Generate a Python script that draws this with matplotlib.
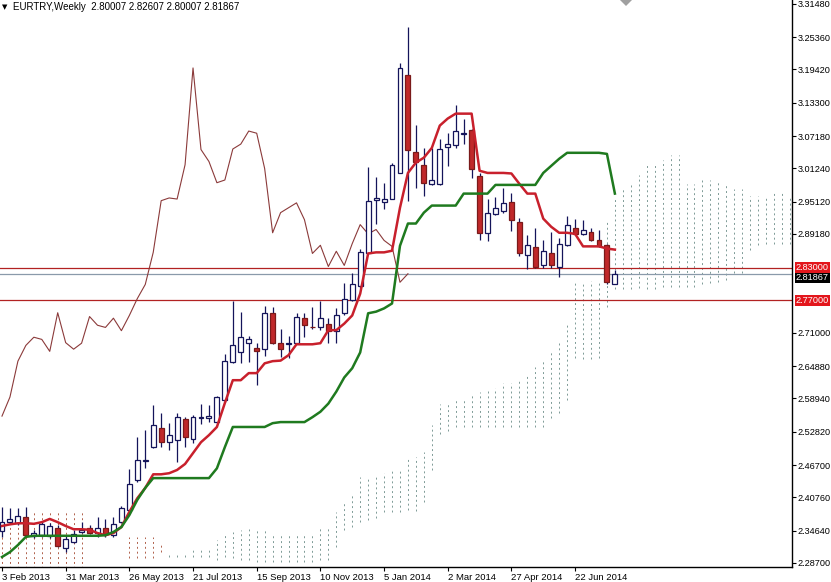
import matplotlib.pyplot as plt
from matplotlib.patches import Polygon

plt.rcParams['font.family'] = ['Liberation Sans', 'DejaVu Sans']

# 周线数据, 第一根是 2013-02-03 那一周
opens = [2.345, 2.362, 2.360, 2.371, 2.336, 2.338, 2.337, 2.351, 2.314, 2.325,
         2.344, 2.351, 2.342, 2.351, 2.338, 2.362, 2.384, 2.439, 2.474, 2.500,
         2.535, 2.509, 2.513, 2.551, 2.514, 2.554, 2.553, 2.546, 2.586, 2.656,
         2.674, 2.692, 2.683, 2.681, 2.747, 2.692, 2.690, 2.692, 2.738, 2.721,
         2.720, 2.727, 2.714, 2.746, 2.771, 2.797, 2.856, 2.955, 2.951, 2.957,
         3.004, 3.184, 3.043, 3.019, 2.984, 2.984, 3.052, 3.056, 3.075, 3.083,
         2.998, 2.894, 2.929, 2.934, 2.951, 2.914, 2.854, 2.867, 2.834, 2.856,
         2.832, 2.872, 2.903, 2.892, 2.896, 2.880, 2.872, 2.80007]
highs = [2.390, 2.388, 2.388, 2.390, 2.348, 2.362, 2.360, 2.357, 2.338, 2.348,
         2.362, 2.357, 2.371, 2.368, 2.371, 2.392, 2.459, 2.518, 2.531, 2.577,
         2.562, 2.544, 2.562, 2.555, 2.559, 2.580, 2.577, 2.594, 2.672, 2.768,
         2.748, 2.705, 2.692, 2.760, 2.757, 2.718, 2.705, 2.746, 2.746, 2.757,
         2.768, 2.738, 2.755, 2.801, 2.820, 2.865, 3.014, 2.997, 2.986, 3.023,
         3.206, 3.272, 3.093, 3.050, 3.050, 3.067, 3.078, 3.129, 3.104, 3.085,
         3.003, 2.957, 2.959, 2.977, 2.968, 2.922, 2.889, 2.903, 2.880, 2.896,
         2.885, 2.925, 2.920, 2.918, 2.903, 2.900, 2.874, 2.82607]
lows = [2.335, 2.358, 2.357, 2.335, 2.333, 2.335, 2.333, 2.316, 2.307, 2.324,
        2.342, 2.340, 2.335, 2.335, 2.335, 2.360, 2.381, 2.436, 2.461, 2.498,
        2.500, 2.494, 2.472, 2.500, 2.507, 2.542, 2.546, 2.544, 2.582, 2.654,
        2.654, 2.656, 2.614, 2.668, 2.690, 2.665, 2.663, 2.690, 2.702, 2.718,
        2.716, 2.692, 2.692, 2.742, 2.768, 2.793, 2.856, 2.911, 2.937, 2.957,
        3.003, 2.953, 2.977, 2.962, 2.981, 2.981, 3.017, 3.050, 3.058, 2.995,
        2.880, 2.878, 2.926, 2.931, 2.898, 2.852, 2.828, 2.830, 2.830, 2.830,
        2.812, 2.870, 2.889, 2.889, 2.878, 2.867, 2.800, 2.80007]
closes = [2.362, 2.368, 2.373, 2.338, 2.342, 2.359, 2.355, 2.318, 2.331, 2.340,
          2.348, 2.342, 2.351, 2.340, 2.359, 2.388, 2.432, 2.476, 2.477, 2.540,
          2.509, 2.522, 2.555, 2.518, 2.555, 2.555, 2.557, 2.592, 2.658, 2.687,
          2.702, 2.698, 2.676, 2.747, 2.692, 2.680, 2.691, 2.740, 2.724, 2.720,
          2.737, 2.714, 2.742, 2.773, 2.799, 2.858, 2.953, 2.958, 2.956, 3.019,
          3.197, 3.047, 3.025, 2.986, 2.991, 3.048, 3.057, 3.081, 3.077, 3.012,
          2.894, 2.931, 2.940, 2.949, 2.918, 2.856, 2.871, 2.832, 2.860, 2.834,
          2.874, 2.909, 2.892, 2.900, 2.880, 2.869, 2.803, 2.81867]

# 一目均衡表: 转换线(红), 基准线(绿)
tenkan = [2.355, 2.358, 2.360, 2.360, 2.359, 2.362, 2.368, 2.362, 2.355, 2.349,
          2.349, 2.348, 2.342, 2.338, 2.342, 2.353, 2.381, 2.406, 2.425, 2.450,
          2.450, 2.452, 2.458, 2.469, 2.489, 2.509, 2.522, 2.537, 2.581, 2.623,
          2.623, 2.636, 2.636, 2.654, 2.658, 2.659, 2.669, 2.689, 2.689, 2.689,
          2.691, 2.715, 2.715, 2.727, 2.742, 2.782, 2.856, 2.858, 2.858, 2.861,
          2.940, 3.004, 3.023, 3.032, 3.050, 3.091, 3.104, 3.113, 3.113, 3.113,
          3.008, 3.004, 3.004, 3.004, 3.003, 2.984, 2.966, 2.966, 2.920, 2.905,
          2.894, 2.894, 2.892, 2.869, 2.869, 2.869, 2.865, 2.863]
kijun = [2.298, 2.307, 2.320, 2.335, 2.337, 2.337, 2.337, 2.337, 2.337, 2.337,
         2.337, 2.337, 2.337, 2.338, 2.344, 2.353, 2.375, 2.403, 2.425, 2.443,
         2.443, 2.443, 2.443, 2.443, 2.443, 2.443, 2.443, 2.461, 2.500, 2.537,
         2.537, 2.537, 2.537, 2.537, 2.544, 2.546, 2.546, 2.546, 2.546, 2.555,
         2.565, 2.580, 2.602, 2.628, 2.645, 2.674, 2.746, 2.749, 2.755, 2.764,
         2.870, 2.911, 2.911, 2.931, 2.944, 2.944, 2.944, 2.944, 2.966, 2.966,
         2.966, 2.966, 2.982, 2.982, 2.982, 2.982, 2.982, 2.982, 3.004, 3.017,
         3.030, 3.041, 3.041, 3.041, 3.041, 3.041, 3.039, 2.966]

# 先行带 A / B (云), 向前画到图右边
span_a = [2.260, 2.260, 2.260, 2.260, 2.260, 2.260, 2.260, 2.260, 2.260, 2.260,
          2.260, 2.250, 2.250, 2.250, 2.250, 2.250, 2.296, 2.296, 2.296, 2.296,
          2.307, 2.305, 2.305, 2.305, 2.315, 2.315, 2.315, 2.329, 2.342, 2.344,
          2.348, 2.349, 2.351, 2.351, 2.342, 2.342, 2.342, 2.342, 2.342, 2.342,
          2.351, 2.351, 2.381, 2.399, 2.412, 2.445, 2.445, 2.445, 2.452, 2.458,
          2.458, 2.480, 2.481, 2.491, 2.540, 2.580, 2.580, 2.587, 2.587, 2.596,
          2.601, 2.603, 2.608, 2.618, 2.618, 2.622, 2.630, 2.648, 2.659, 2.678,
          2.694, 2.728, 2.802, 2.802, 2.805, 2.805, 2.915, 2.958, 2.976, 2.983,
          3.001, 3.019, 3.021, 3.028, 3.037, 3.037, 2.984, 2.984, 2.991, 2.991,
          2.991, 2.984, 2.975, 2.975, 2.962, 2.962, 2.962, 2.967, 2.967, 2.962]
span_b = [2.384, 2.384, 2.384, 2.384, 2.384, 2.384, 2.384, 2.384, 2.384, 2.384,
          2.384, 2.270, 2.270, 2.270, 2.270, 2.270, 2.335, 2.335, 2.335, 2.335,
          2.320, 2.298, 2.298, 2.298, 2.298, 2.298, 2.298, 2.293, 2.298, 2.296,
          2.293, 2.293, 2.289, 2.289, 2.289, 2.289, 2.289, 2.289, 2.289, 2.289,
          2.293, 2.293, 2.316, 2.348, 2.353, 2.362, 2.366, 2.370, 2.381, 2.381,
          2.381, 2.384, 2.382, 2.399, 2.458, 2.525, 2.530, 2.537, 2.537, 2.537,
          2.537, 2.537, 2.537, 2.537, 2.537, 2.537, 2.537, 2.537, 2.537, 2.554,
          2.563, 2.586, 2.664, 2.662, 2.662, 2.664, 2.758, 2.790, 2.790, 2.790,
          2.793, 2.790, 2.790, 2.795, 2.795, 2.795, 2.795, 2.795, 2.799, 2.802,
          2.804, 2.808, 2.820, 2.820, 2.862, 2.871, 2.874, 2.874, 2.874, 2.874]

date_labels = ["3 Feb 2013", "31 Mar 2013", "26 May 2013", "21 Jul 2013",
               "15 Sep 2013", "10 Nov 2013", "5 Jan 2014", "2 Mar 2014",
               "27 Apr 2014", "22 Jun 2014"]
price_ticks = [3.31480, 3.25360, 3.19420, 3.13300, 3.07180, 3.01240, 2.95120,
               2.89180, 2.71000, 2.64880, 2.58940, 2.52820, 2.46700, 2.40760,
               2.34640, 2.28700]
levels = [2.83, 2.77]
bid = 2.81867
title = "EURTRY,Weekly  2.80007 2.82607 2.80007 2.81867"

W, H = 831, 582
fig = plt.figure(figsize=(W / 100, H / 100), dpi=100)
ax = fig.add_axes([0, 15 / H, 792 / W, 567 / H])
ax.set_xlim(-0.25, 99.25)
ax.set_ylim(2.2796, 3.3219)

# 云: 每根柱子一条点线
for i in range(len(span_a)):
    a, b = span_a[i], span_b[i]
    col = '#7d9a96' if a >= b else '#b0604a'
    ax.vlines(i, min(a, b), max(a, b), colors=col, linewidth=0.7,
              linestyles=(0, (2, 3)), zorder=1)

# 水平线
for lv in levels:
    ax.axhline(lv, color='#b22222', linewidth=0.9, zorder=2)
ax.axhline(bid, color='#8a9aaa', linewidth=0.9, zorder=2)

# 迟行线 = 收盘价后移26周
n_lag = 26
ax.plot(range(len(closes) - n_lag), closes[n_lag:], color='#8b3a3a',
        linewidth=0.8, zorder=3)

# K线
for i in range(len(closes)):
    o, h, l, c = opens[i], highs[i], lows[i], closes[i]
    ax.vlines(i, l, h, colors='#14145a', linewidth=0.9, zorder=4)
    body = max(abs(c - o), 0.0015)
    if c >= o:
        ax.bar(i, body, width=0.62, bottom=min(o, c), color='white',
               edgecolor='#14145a', linewidth=0.9, zorder=5)
    else:
        ax.bar(i, body, width=0.62, bottom=min(o, c), color='#c0282a',
               edgecolor='#7a1a1a', linewidth=0.9, zorder=5)

ax.plot(range(len(tenkan)), tenkan, color='#c8202c', linewidth=1.8, zorder=6)
ax.plot(range(len(kijun)), kijun, color='#1f7a1f', linewidth=1.8, zorder=6)

# 坐标轴
for s in ['left', 'top']:
    ax.spines[s].set_visible(False)
for s in ['right', 'bottom']:
    ax.spines[s].set_linewidth(1.0)
    ax.spines[s].set_color('black')

ax.yaxis.tick_right()
ax.set_yticks(price_ticks)
ax.set_yticklabels(['%.5f' % p for p in price_ticks])
ax.tick_params(axis='y', direction='out', length=3, labelsize=6.6, pad=1)

ax.set_xticks([8 * k for k in range(len(date_labels))])
ax.set_xticklabels(date_labels)
for lbl in ax.get_xticklabels():
    lbl.set_horizontalalignment('left')
ax.tick_params(axis='x', direction='out', length=3, labelsize=6.8, pad=1)

# 右侧价格标签
tr = ax.get_yaxis_transform()
ax.text(1.005, bid - 0.006, '%.5f' % bid, transform=tr, fontsize=6.6,
        color='white', va='center', ha='left',
        bbox=dict(boxstyle='square,pad=0.12', fc='black', ec='none'),
        clip_on=False, zorder=7)
for lv in levels:
    ax.text(1.005, lv, '%.5f' % lv, transform=tr, fontsize=6.6, color='white',
            va='center', ha='left',
            bbox=dict(boxstyle='square,pad=0.12', fc='#e3161c', ec='none'),
            clip_on=False, zorder=8)

# 标题
fig.text(2 / W, 1 - 7 / H, '\u25bc', fontsize=5, va='center', ha='left',
         family='DejaVu Sans')
fig.text(13 / W, 1 - 7 / H, title, fontsize=7, va='center', ha='left')

# 顶部小三角
tri = [(620 / W, 1), (632 / W, 1), (626 / W, 1 - 6 / H)]
fig.patches.append(Polygon(tri, closed=True, transform=fig.transFigure,
                           facecolor='#a0a0a0', edgecolor='none'))

fig.savefig('out.png', dpi=100)
